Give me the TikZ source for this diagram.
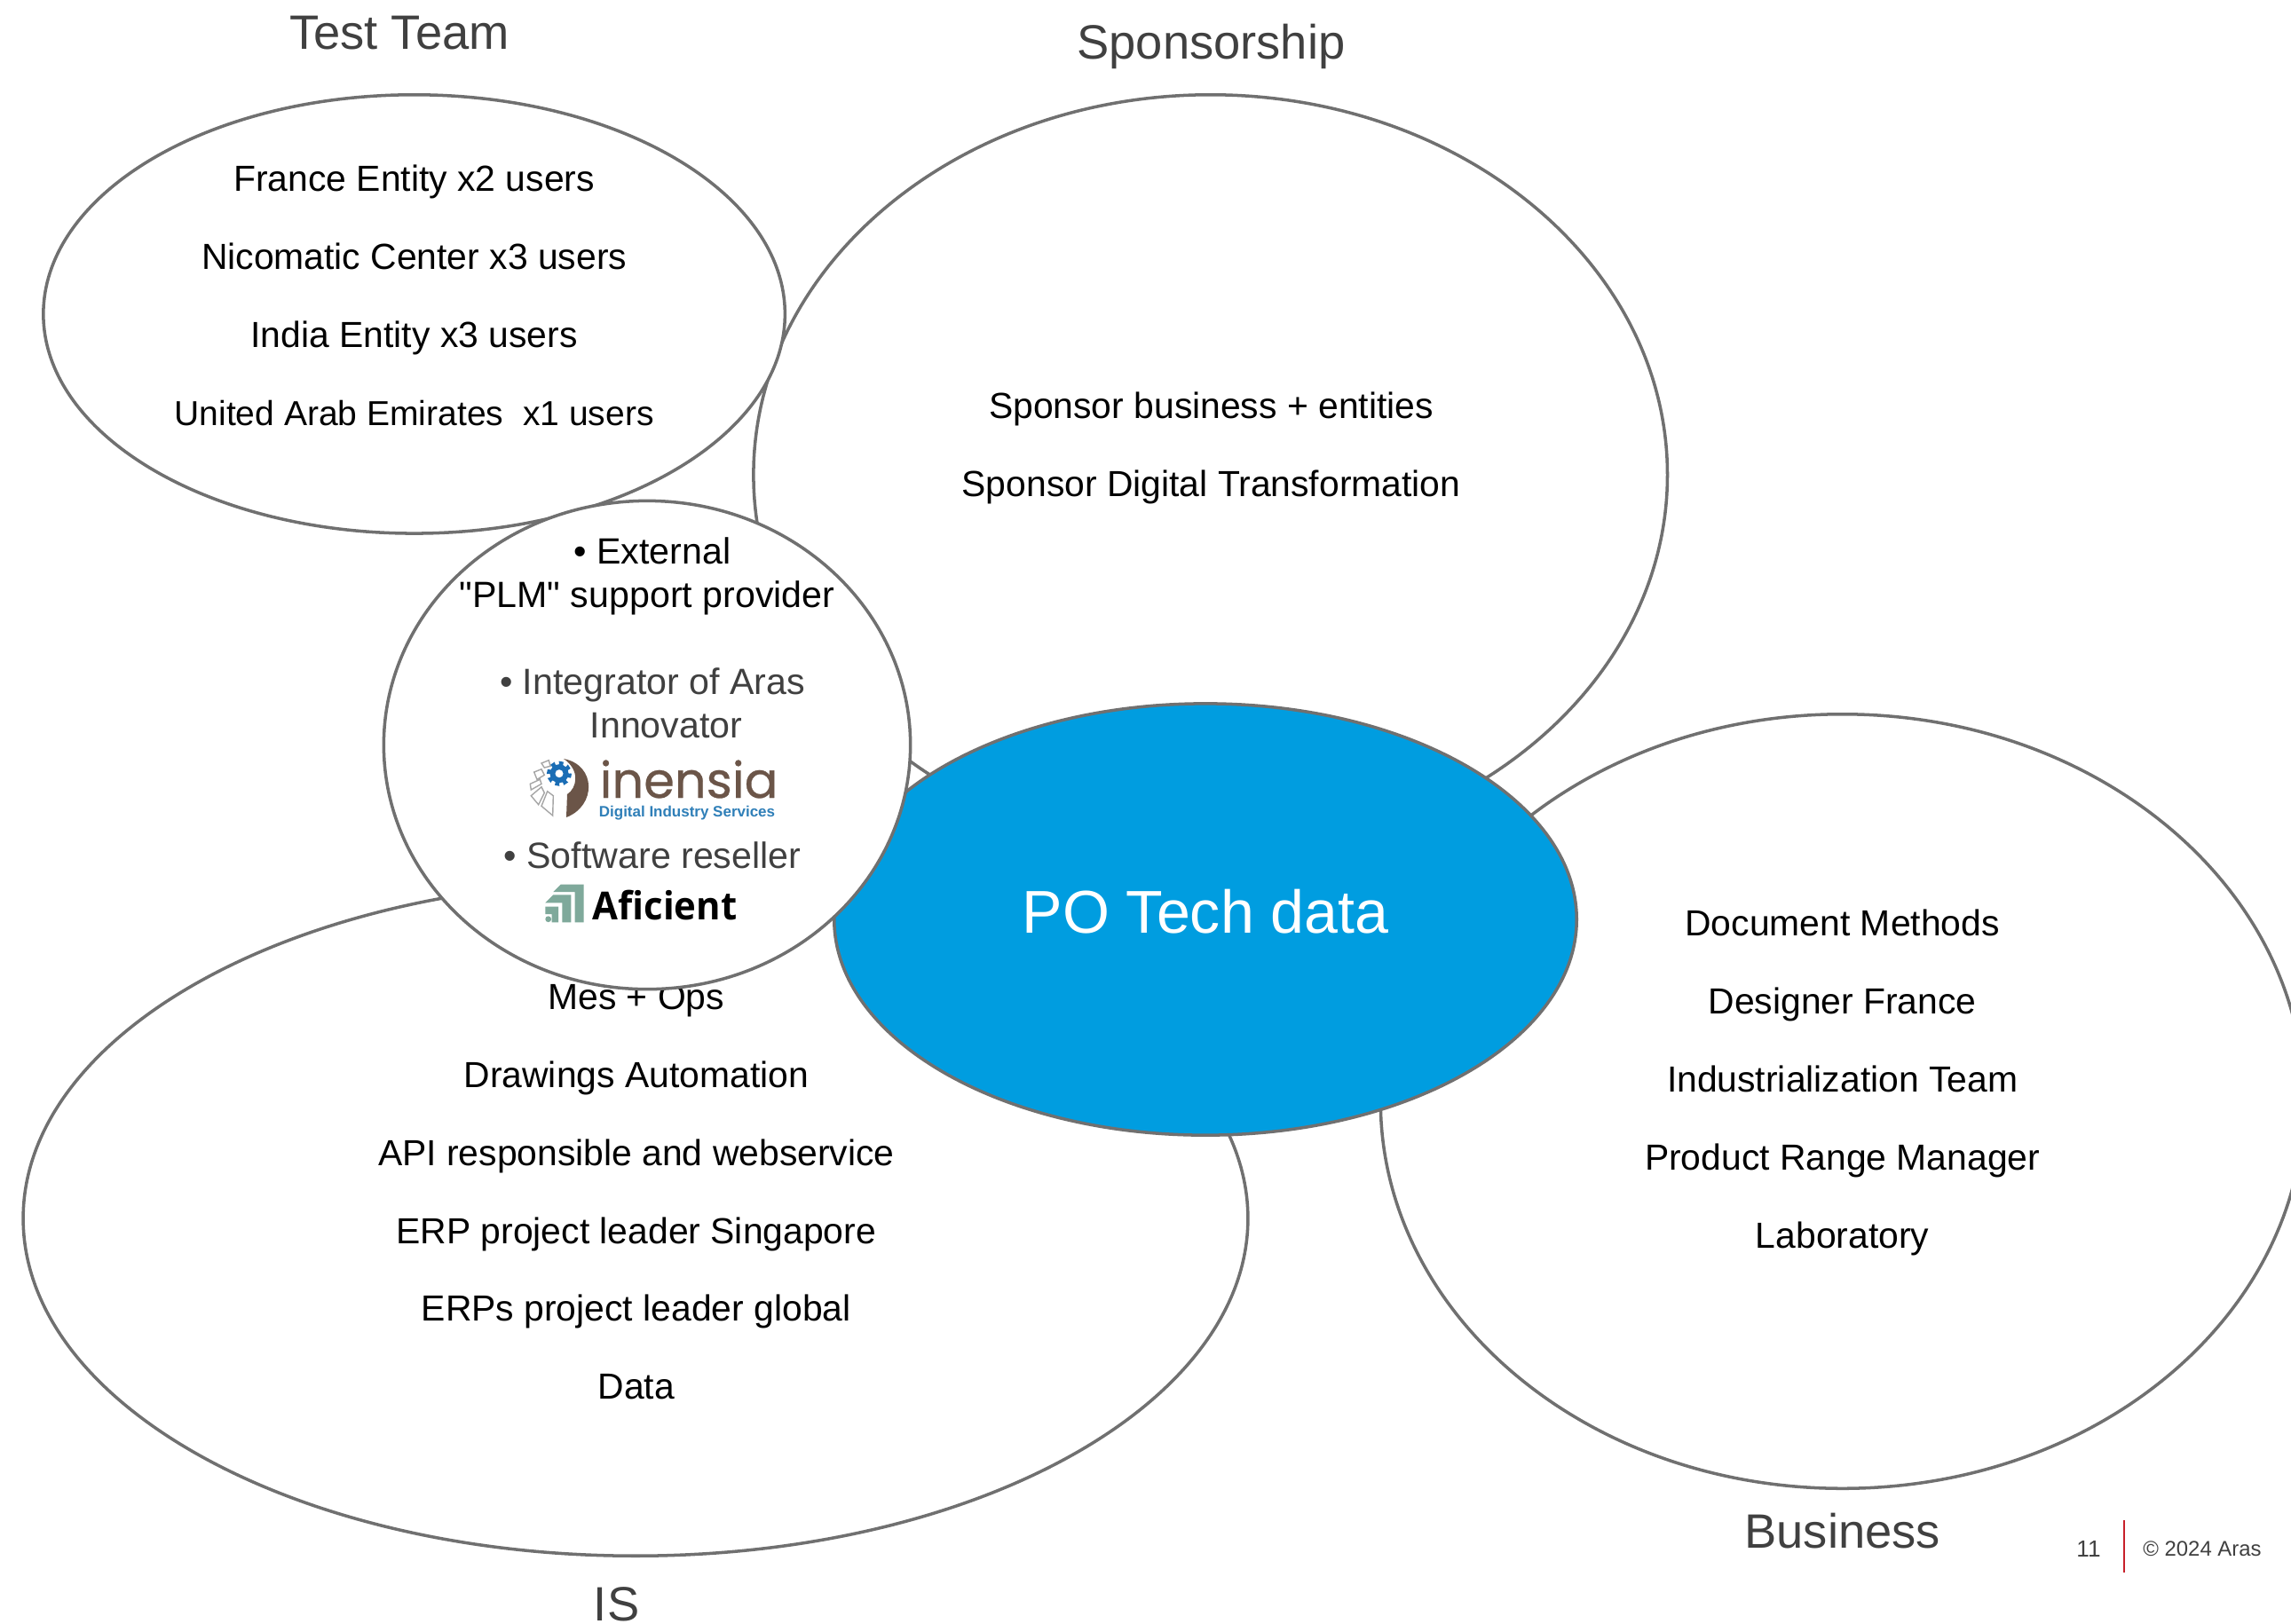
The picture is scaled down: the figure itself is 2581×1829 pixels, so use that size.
\documentclass[tikz,border=0pt]{standalone}
\usepackage{fontspec}
\setmainfont{Liberation Sans}
\newfontfamily\plainfont{Liberation Sans}
\newfontfamily\inensiafont[FakeBold=0.5]{Poppins}
\newfontfamily\aficientfont[FakeStretch=0.96]{Open Sans}
\usepackage{xcolor}
\usetikzlibrary{shapes.geometric,positioning}
\definecolor{ringgray}{HTML}{707070}
\definecolor{titlegray}{HTML}{404040}
\definecolor{arasblue}{HTML}{009DE0}
\definecolor{arasred}{HTML}{C8202A}
\definecolor{gearblue}{HTML}{1A6DB5}
\definecolor{inensiabrown}{HTML}{6B5548}
\definecolor{inensiablue}{HTML}{2F7FB8}
\definecolor{aficientgreen}{HTML}{7FA99B}

\begin{document}
\begin{tikzpicture}[x=0.01cm, y=-0.01cm]
        \tikzstyle{blob}=[ellipse,draw=ringgray,fill=white,line width=1pt,inner sep=0pt]
        \tikzstyle{group}=[align=center,text=black,font=\fontsize{11.62}{25}\selectfont]
        \tikzstyle{title}=[text=titlegray,inner sep=0pt,font=\fontsize{15.45}{18}\selectfont]
        \tikzstyle{inner}=[align=center,inner sep=0pt,font=\fontsize{11.7}{14}\selectfont]
        \tikzstyle{foot}=[text=titlegray,inner sep=0pt,font=\fontsize{7.45}{9}\selectfont]

        \useasboundingbox (0,0) rectangle (2581,1829);
        \clip (0,0) rectangle (2581,1829);

        % Back ellipses
        \node[blob, minimum width=10.29cm, minimum height=8.56cm] (sponsorship) at (1363.7,535) {};
        \node[blob, minimum width=10.40cm, minimum height=8.72cm] (business) at (2075.6,1241) {};
        \node[blob, minimum width=13.79cm, minimum height=7.60cm] (is) at (716,1373) {};
        \node[blob, minimum width=8.35cm, minimum height=4.94cm] (testteam) at (466.6,353.9) {};

        % Texts of the ellipses
        \node[group] (testteamtext) at (466.6,332.5) {France Entity x2 users\\Nicomatic Center x3 users\\India Entity x3 users\\\fontsize{11.1}{25}\selectfont United Arab Emirates\ \ x1 users};
        \node[group] (sponsorshiptext) at (1364.5,505) {Sponsor business + entities\\Sponsor Digital Transformation};
        \node[group] (businesstext) at (2075.6,1219.6) {Document Methods\\Designer France\\Industrialization Team\\Product Range Manager\\Laboratory};
        \node[group] (istext) at (716.8,1343) {Mes + Ops\\Drawings Automation\\API responsible and webservice\\ERP project leader Singapore\\ERPs project leader global\\Data};

        % Titles
        \node[title] (testteamtitle) at (450,37) {Test Team};
        \node[title] (sponsorshiptitle) at (1364.5,52) {Sponsorship};
        \node[title] (businesstitle) at (2075.6,1725) {Business};
        \node[title] (istitle) at (694.6,1808) {IS};

        % Centre ellipse
        \node[blob, fill=arasblue, minimum width=8.36cm, minimum height=4.86cm] (potech) at (1358,1036) {};
        \node[text=white, font=\fontsize{19.37}{22}\selectfont] (potechtext) at (1358,1027) {PO Tech data};

        % Support circle
        \node[blob, minimum width=5.93cm, minimum height=5.50cm] (support) at (729,839.5) {};
        \node[inner] (external) at (729,649) {\hspace*{3.3pt}\textbullet\ External\\{\plainfont "PLM"} support provider};
        \node[inner, text=titlegray] (integrator) at (735,792) {\textbullet\ Integrator of Aras\\\hspace*{8.8pt}Innovator};
        \node[inner, text=titlegray] (reseller) at (735,964) {\textbullet\ Software reseller};

        % inensia logo
        \node[anchor=base west, inner sep=0pt, text=inensiabrown, font=\inensiafont\fontsize{15.9}{18}\selectfont] (inensia) at (675,899) {inensia};
        \node[anchor=center, inner sep=0pt, text=inensiablue, font=\bfseries\fontsize{4.83}{5}\selectfont] (inensiasub) at (774,916) {Digital Industry Services};
        \fill[inensiabrown] (635,855) .. controls (672,862) and (672,908) .. (638,921) -- (639,895) .. controls (650,888) and (654,868) .. (635,855) -- cycle;
        \fill[gearblue] (630,871.7) circle (10.5);
        \draw[gearblue, line width=1.15pt, dash pattern=on 1.33pt off 1.33pt] (630,871.7) circle (12);
        \fill[white] (630,871.7) circle (4.5);
        \draw[gray!70, line width=0.4pt] (610,860) -- (618.3,856.7) -- (620,863.3) -- (613.3,865) -- cycle
            (601.7,870) -- (610,866.7) -- (613.3,873.3) -- (605,878.3) -- cycle
            (597.3,883.3) -- (608.3,878.3) -- (610,883.3) -- (598.3,890) -- cycle
            (598.3,896.7) -- (610,886.7) -- (613.3,893.3) -- (606.7,906.7) -- cycle
            (610,908.3) -- (616.7,891.7) -- (623.3,896.7) -- (622.7,919) -- cycle;

        % Aficient logo
        \fill[aficientgreen] (631.7,996.7) -- (657.7,996.7) -- (657.7,1039.3) -- (647.7,1039.3) -- (647.7,1005) -- (623.3,1005) -- cycle;
        \fill[aficientgreen] (623.3,1008.3) -- (643.3,1008.3) -- (643.3,1039.3) -- (633.3,1039.3) -- (633.3,1017.3) -- (614.3,1017.3) -- cycle;
        \fill[aficientgreen] (614.3,1021.7) -- (629,1021.7) -- (629,1039.3) -- (621.7,1039.3) -- (621.7,1030) -- (614.3,1030) -- cycle;
        \fill[aficientgreen] (617.7,1035.7) circle (3.4);
        \node[anchor=base west, inner sep=0pt, text=black, font=\aficientfont\bfseries\fontsize{12.4}{14}\selectfont] (aficient) at (667,1036.7) {Aficient};

        % Footer
        \node[foot] (pagenumber) at (2353,1745) {11};
        \node[foot, font=\fontsize{6.8}{9}\selectfont] (copyright) at (2481,1745) {\textcopyright\ 2024 Aras};
        \coordinate (bartop) at (2393,1713);
        \coordinate (barbottom) at (2393,1772);
        \draw[arasred, line width=0.7pt] (bartop) -- (barbottom);
    \end{tikzpicture}
\end{document}
